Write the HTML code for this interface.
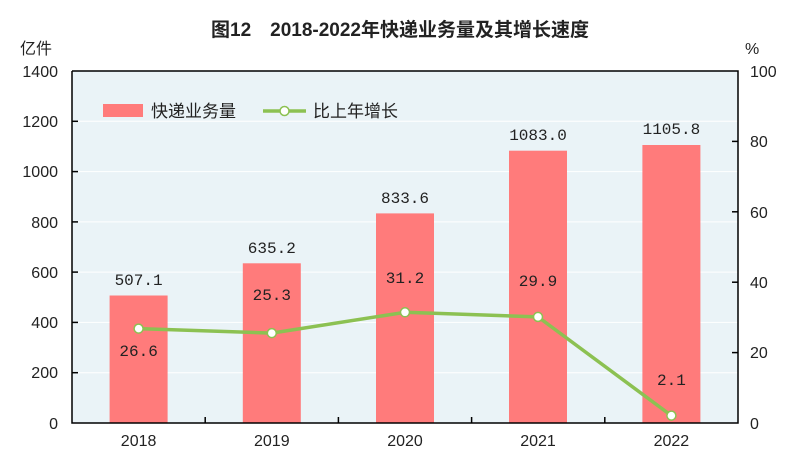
<!DOCTYPE html>
<html><head><meta charset="utf-8"><style>body{margin:0;background:#fff}svg{display:block}</style></head><body>
<svg width="800" height="464" viewBox="0 0 800 464" xmlns="http://www.w3.org/2000/svg" font-family="'Liberation Sans','Noto Sans CJK SC',sans-serif">
<rect width="800" height="464" fill="#fff"/>
<text x="400" y="36" text-anchor="middle" font-size="19" font-weight="bold" fill="#222">图12　2018-2022年快递业务量及其增长速度</text>
<text x="20" y="54" font-size="16" fill="#222">亿件</text>
<text x="745" y="54" font-size="16" fill="#222">%</text>
<rect x="72" y="71" width="666" height="352" fill="#eaf3f7"/>
<g stroke="#fff" stroke-width="1">
<line x1="72" y1="121.3" x2="738" y2="121.3"/><line x1="72" y1="171.6" x2="738" y2="171.6"/><line x1="72" y1="221.9" x2="738" y2="221.9"/><line x1="72" y1="272.1" x2="738" y2="272.1"/><line x1="72" y1="322.4" x2="738" y2="322.4"/><line x1="72" y1="372.7" x2="738" y2="372.7"/>
</g>
<g fill="#ff7b7b">
<rect x="109.6" y="295.5" width="58" height="127.5"/>
<rect x="242.8" y="263.3" width="58" height="159.7"/>
<rect x="376" y="213.4" width="58" height="209.6"/>
<rect x="509" y="150.7" width="58" height="272.3"/>
<rect x="642.4" y="145" width="58" height="278"/>
</g>
<g font-family="'Liberation Mono',monospace" font-size="16" fill="#222" text-anchor="middle">
<text x="138.6" y="285">507.1</text><text x="271.8" y="253">635.2</text><text x="405" y="203">833.6</text><text x="538" y="140">1083.0</text><text x="671.4" y="134">1105.8</text>
<text x="138.6" y="356">26.6</text><text x="271.8" y="300">25.3</text><text x="405" y="283">31.2</text><text x="538" y="286">29.9</text><text x="671.4" y="385">2.1</text>
</g>
<polyline points="138.6,328.6 271.8,333.1 405,312.3 538,316.9 671.4,415.6" fill="none" stroke="#8cc152" stroke-width="3.5" stroke-linejoin="round"/>
<g fill="#fff" stroke="#8cc152" stroke-width="1.5">
<circle cx="138.6" cy="328.6" r="4.5"/><circle cx="271.8" cy="333.1" r="4.5"/><circle cx="405" cy="312.3" r="4.5"/><circle cx="538" cy="316.9" r="4.5"/><circle cx="671.4" cy="415.6" r="4.5"/>
</g>
<g stroke="#000" stroke-width="1.5" fill="none">
<polyline points="72,71 738,71 738,423 72,423 72,71"/>
</g>
<g stroke="#000" stroke-width="1.5">
<line x1="72" y1="121.3" x2="78" y2="121.3"/><line x1="72" y1="171.6" x2="78" y2="171.6"/><line x1="72" y1="221.9" x2="78" y2="221.9"/><line x1="72" y1="272.1" x2="78" y2="272.1"/><line x1="72" y1="322.4" x2="78" y2="322.4"/><line x1="72" y1="372.7" x2="78" y2="372.7"/>
<line x1="732" y1="141.4" x2="738" y2="141.4"/><line x1="732" y1="211.8" x2="738" y2="211.8"/><line x1="732" y1="282.2" x2="738" y2="282.2"/><line x1="732" y1="352.6" x2="738" y2="352.6"/>
<line x1="205.2" y1="417" x2="205.2" y2="423"/><line x1="338.4" y1="417" x2="338.4" y2="423"/><line x1="471.6" y1="417" x2="471.6" y2="423"/><line x1="604.8" y1="417" x2="604.8" y2="423"/>
</g>
<g font-size="16" fill="#222" text-anchor="end">
<text x="58" y="77">1400</text><text x="58" y="127">1200</text><text x="58" y="177">1000</text><text x="58" y="228">800</text><text x="58" y="278">600</text><text x="58" y="328">400</text><text x="58" y="378">200</text><text x="58" y="429">0</text>
</g>
<g font-size="16" fill="#222" text-anchor="start">
<text x="750" y="77">100</text><text x="750" y="147">80</text><text x="750" y="218">60</text><text x="750" y="288">40</text><text x="750" y="358">20</text><text x="750" y="429">0</text>
</g>
<g font-size="16" fill="#222" text-anchor="middle">
<text x="138.6" y="446">2018</text><text x="271.8" y="446">2019</text><text x="405" y="446">2020</text><text x="538" y="446">2021</text><text x="671.4" y="446">2022</text>
</g>
<rect x="103" y="104" width="40" height="13" fill="#ff7b7b"/>
<text x="151" y="117" font-size="17" fill="#222">快递业务量</text>
<line x1="263" y1="111" x2="306" y2="111" stroke="#8cc152" stroke-width="3.5"/>
<circle cx="284.5" cy="111" r="4.5" fill="#fff" stroke="#8cc152" stroke-width="1.5"/>
<text x="313" y="117" font-size="17" fill="#222">比上年增长</text>
</svg>
</body></html>
